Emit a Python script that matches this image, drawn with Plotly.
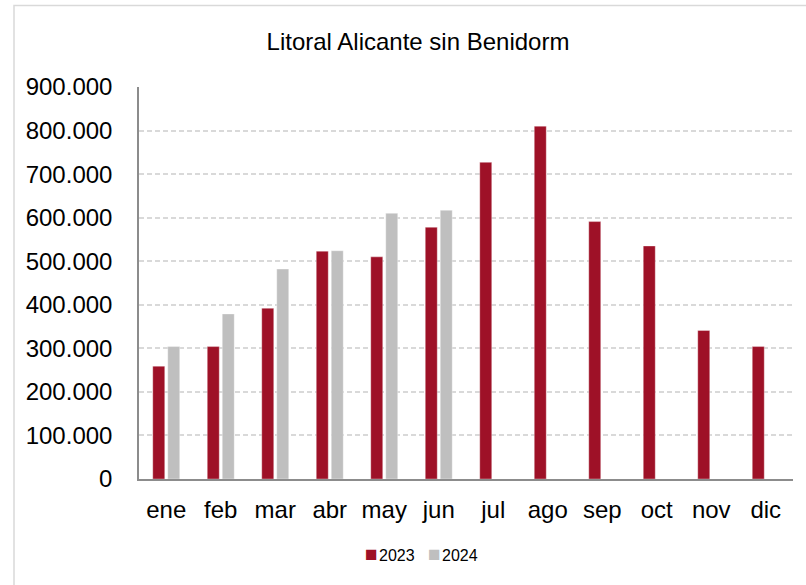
import plotly.graph_objects as go

months = ["ene", "feb", "mar", "abr", "may", "jun", "jul", "ago", "sep", "oct", "nov", "dic"]
values_2023 = [259000, 304000, 392000, 523000, 510000, 578000, 727000, 810000, 591000, 535000, 341000, 304000]
values_2024 = [304000, 379000, 482000, 524000, 610000, 617000, None, None, None, None, None, None]
series_names = ["2023", "2024"]

RED = "#9E1127"
GRAY = "#BFBFBF"
FONT = "Liberation Sans, Arial, sans-serif"

W, H = 806, 585
ML, MR, MT, MB = 139, 13, 87, 106
PW, PH = W - ML - MR, H - MT - MB

def px(x):
    return (x - ML) / PW

def py(y):
    return (H - MB - y) / PH

fig = go.Figure()
fig.add_trace(go.Bar(x=months, y=values_2023, name=series_names[0],
                     marker=dict(color=RED, line=dict(color="rgba(255,255,255,0.35)", width=1))))
fig.add_trace(go.Bar(x=months, y=values_2024, name=series_names[1],
                     marker=dict(color=GRAY, line=dict(color="rgba(255,255,255,0.35)", width=1))))

legend_text = (f'<span style="color:{RED};font-size:21px">■</span>&#8202;{series_names[0]}'
               f'&nbsp;&nbsp;&nbsp;<span style="color:{GRAY};font-size:21px">■</span>&#8202;{series_names[1]}')

fig.update_layout(
    width=W, height=H,
    margin=dict(l=ML, r=MR, t=MT, b=MB, pad=0),
    paper_bgcolor="white", plot_bgcolor="white",
    separators=",.",
    font=dict(family=FONT, color="#000000", size=24),
    barmode="group", bargap=0.45, bargroupgap=0.2,
    title=dict(text="Litoral Alicante sin Benidorm", font=dict(size=24, family=FONT, color="#000"),
               x=px(418), xref="paper", xanchor="center",
               y=1 - 42 / H, yref="container", yanchor="middle"),
    showlegend=False,
    annotations=[dict(text=legend_text, xref="paper", yref="paper", x=px(421), y=py(553),
                      xanchor="center", yanchor="middle", showarrow=False,
                      font=dict(size=16, family=FONT, color="#000"))],
    shapes=[dict(type="rect", xref="paper", yref="paper",
                 x0=px(14), x1=px(812), y0=py(600), y1=py(5.5),
                 line=dict(color="#d9d9d9", width=1.5), fillcolor="rgba(0,0,0,0)", layer="below")],
)

fig.update_yaxes(range=[0, 900000], dtick=100000, tick0=0, tickformat=",d",
                 showgrid=True, gridcolor="#d9d9d9", gridwidth=1.5, griddash="5px,3px",
                 showline=True, linecolor="#8c8c8c", linewidth=1.5,
                 ticks="", ticklabelstandoff=20, zeroline=False,
                 tickfont=dict(size=24, family=FONT))
fig.update_xaxes(showline=True, linecolor="#8c8c8c", linewidth=1.5, ticks="",
                 showgrid=False, ticklabelstandoff=8,
                 tickfont=dict(size=24, family=FONT))

fig.write_html("out.html", config={"displayModeBar": False},
               post_script="document.body.style.margin='0';")
